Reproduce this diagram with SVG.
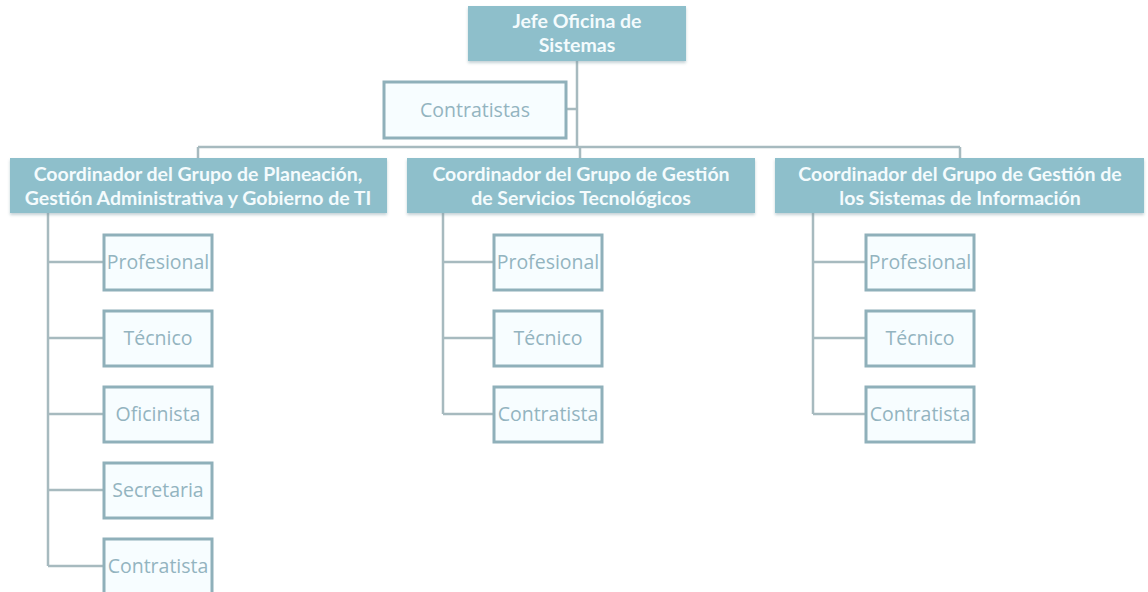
<svg xmlns="http://www.w3.org/2000/svg" width="1148" height="592" viewBox="0 0 1148 592">
<defs>
<filter id="sh" x="-5%" y="-10%" width="110%" height="130%">
<feDropShadow dx="0" dy="2" stdDeviation="1.5" flood-color="#7a9aa3" flood-opacity="0.45"/>
</filter>
<style>
.head{fill:#8ebfcb;filter:url(#sh)}
.ht{font-family:Lato,"Open Sans",sans-serif;font-weight:bold;font-size:19.5px;fill:#f4fbfd;text-anchor:middle}
.box{fill:#f7fdff;stroke:#8fb0ba;stroke-width:3}
.bt{font-family:"Open Sans","Noto Sans",sans-serif;font-size:19.5px;fill:#93b4bf;text-anchor:middle}
.ln{fill:none;stroke:#a7babf;stroke-width:2.5}
</style>
</defs>
<rect width="1148" height="592" fill="#ffffff"/>
<g id="connectors">
<path class="ln" d="M577 61V147M566 109H577M198 147H960M198 147V158M580 147V158M960 147V158"/>
<path class="ln" d="M48 213V566M48 262H103M48 338H103M48 414H103M48 490H103M48 566H103"/>
<path class="ln" d="M443 213V414M443 262H493M443 338H493M443 414H493"/>
<path class="ln" d="M813 213V414M813 262H865M813 338H865M813 414H865"/>
</g>
<g id="jefe">
<rect class="head" x="468" y="6" width="218" height="55"/>
<text class="ht" x="577" y="28">Jefe Oficina de</text>
<text class="ht" x="577" y="52">Sistemas</text>
</g>
<g id="contratistas">
<rect class="box" x="384" y="82" width="182" height="56"/>
<text class="bt" x="475" y="117">Contratistas</text>
</g>
<g id="coord1">
<rect class="head" x="10" y="158" width="377" height="55"/>
<text class="ht" x="198" y="181">Coordinador del Grupo de Planeación,</text>
<text class="ht" x="198" y="205">Gestión Administrativa y Gobierno de TI</text>
</g>
<g id="coord2">
<rect class="head" x="407" y="158" width="348" height="55"/>
<text class="ht" x="581" y="181">Coordinador del Grupo de Gestión</text>
<text class="ht" x="581" y="205">de Servicios Tecnológicos</text>
</g>
<g id="coord3">
<rect class="head" x="775" y="158" width="369" height="55"/>
<text class="ht" x="960" y="181">Coordinador del Grupo de Gestión de</text>
<text class="ht" x="960" y="205">los Sistemas de Información</text>
</g>
<g id="c1-profesional"><rect class="box" x="104" y="235" width="108" height="55"/><text class="bt" x="158" y="269">Profesional</text></g>
<g id="c1-tecnico"><rect class="box" x="104" y="311" width="108" height="55"/><text class="bt" x="158" y="345">Técnico</text></g>
<g id="c1-oficinista"><rect class="box" x="104" y="387" width="108" height="55"/><text class="bt" x="158" y="421">Oficinista</text></g>
<g id="c1-secretaria"><rect class="box" x="104" y="463" width="108" height="55"/><text class="bt" x="158" y="497">Secretaria</text></g>
<g id="c1-contratista"><rect class="box" x="104" y="539" width="108" height="55"/><text class="bt" x="158" y="573">Contratista</text></g>
<g id="c2-profesional"><rect class="box" x="494" y="235" width="108" height="55"/><text class="bt" x="548" y="269">Profesional</text></g>
<g id="c2-tecnico"><rect class="box" x="494" y="311" width="108" height="55"/><text class="bt" x="548" y="345">Técnico</text></g>
<g id="c2-contratista"><rect class="box" x="494" y="387" width="108" height="55"/><text class="bt" x="548" y="421">Contratista</text></g>
<g id="c3-profesional"><rect class="box" x="866" y="235" width="108" height="55"/><text class="bt" x="920" y="269">Profesional</text></g>
<g id="c3-tecnico"><rect class="box" x="866" y="311" width="108" height="55"/><text class="bt" x="920" y="345">Técnico</text></g>
<g id="c3-contratista"><rect class="box" x="866" y="387" width="108" height="55"/><text class="bt" x="920" y="421">Contratista</text></g>
</svg>
